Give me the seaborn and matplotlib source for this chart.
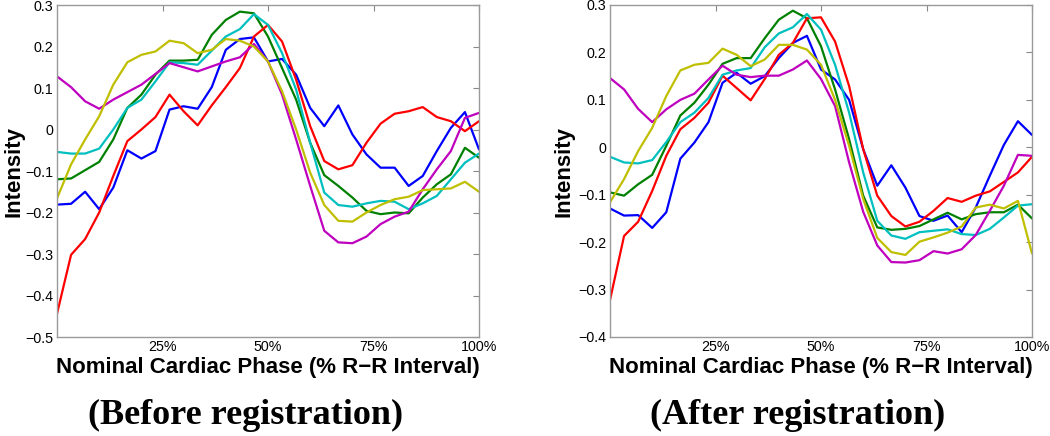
import numpy as np
import pandas as pd
import matplotlib
matplotlib.use("Agg")
import matplotlib.pyplot as plt
import seaborn as sns

# ---------------- data ----------------
phase = np.linspace(0, 100, 31)  # % R-R interval, 31 samples

series_names = ["blue", "green", "red", "cyan", "magenta", "yellow"]
series_colors = {"blue": "#0000ff", "green": "#008000", "red": "#ff0000",
                 "cyan": "#00bfbf", "magenta": "#bf00bf", "yellow": "#bfbf00"}

before_red = [-0.444, -0.302, -0.264, -0.200, -0.112, -0.028, 0.000, 0.030, 0.084, 0.044,
              0.010, 0.058, 0.102, 0.148, 0.224, 0.252, 0.212, 0.120, 0.008, -0.076,
              -0.096, -0.086, -0.032, 0.014, 0.038, 0.044, 0.054, 0.030, 0.020, -0.004, 0.020]
before_blue = [-0.181, -0.179, -0.150, -0.192, -0.140, -0.050, -0.070, -0.052, 0.048, 0.056,
               0.050, 0.102, 0.192, 0.218, 0.222, 0.164, 0.170, 0.132, 0.052, 0.008,
               0.058, -0.012, -0.060, -0.092, -0.092, -0.136, -0.112, -0.052, 0.004, 0.042, -0.048]
before_green = [-0.120, -0.118, -0.098, -0.078, -0.024, 0.052, 0.084, 0.132, 0.166, 0.166,
                0.168, 0.228, 0.264, 0.284, 0.280, 0.224, 0.148, 0.072, -0.032, -0.110,
                -0.136, -0.164, -0.196, -0.204, -0.200, -0.202, -0.164, -0.132, -0.108, -0.044, -0.068]
before_cyan = [-0.054, -0.058, -0.058, -0.046, 0.000, 0.052, 0.072, 0.116, 0.162, 0.160,
               0.156, 0.190, 0.224, 0.242, 0.278, 0.252, 0.184, 0.096, -0.032, -0.152,
               -0.182, -0.186, -0.178, -0.172, -0.174, -0.192, -0.178, -0.160, -0.120, -0.080, -0.058]
before_yellow = [-0.166, -0.084, -0.024, 0.032, 0.108, 0.162, 0.180, 0.188, 0.214, 0.208,
                 0.184, 0.192, 0.218, 0.214, 0.200, 0.164, 0.092, 0.000, -0.104, -0.182,
                 -0.220, -0.222, -0.200, -0.182, -0.168, -0.162, -0.146, -0.144, -0.142, -0.126, -0.150]
before_magenta = [0.128, 0.102, 0.068, 0.050, 0.072, 0.090, 0.108, 0.134, 0.160, 0.150,
                  0.140, 0.152, 0.164, 0.174, 0.206, 0.164, 0.084, -0.024, -0.136, -0.244,
                  -0.272, -0.274, -0.258, -0.228, -0.210, -0.198, -0.144, -0.096, -0.052, 0.028, 0.040]

after_red = [-0.322, -0.187, -0.157, -0.092, -0.018, 0.038, 0.062, 0.094, 0.151, 0.125,
             0.099, 0.144, 0.195, 0.220, 0.272, 0.274, 0.223, 0.129, -0.004, -0.102,
             -0.145, -0.167, -0.157, -0.134, -0.107, -0.115, -0.102, -0.093, -0.073, -0.053, -0.020]
after_blue = [-0.129, -0.144, -0.143, -0.170, -0.137, -0.024, 0.010, 0.053, 0.136, 0.157,
              0.134, 0.150, 0.188, 0.220, 0.235, 0.164, 0.143, 0.100, -0.004, -0.081,
              -0.038, -0.085, -0.145, -0.155, -0.144, -0.179, -0.127, -0.060, 0.005, 0.055, 0.026]
after_green = [-0.095, -0.102, -0.078, -0.058, 0.003, 0.067, 0.094, 0.132, 0.176, 0.188,
               0.188, 0.230, 0.269, 0.288, 0.272, 0.213, 0.122, 0.017, -0.102, -0.169,
               -0.174, -0.172, -0.166, -0.152, -0.138, -0.152, -0.141, -0.137, -0.137, -0.121, -0.150]
after_cyan = [-0.020, -0.032, -0.034, -0.027, 0.011, 0.053, 0.073, 0.104, 0.153, 0.162,
              0.167, 0.211, 0.240, 0.253, 0.281, 0.248, 0.174, 0.073, -0.053, -0.155,
              -0.186, -0.193, -0.179, -0.176, -0.173, -0.183, -0.185, -0.172, -0.148, -0.123, -0.120]
after_yellow = [-0.116, -0.067, -0.008, 0.041, 0.108, 0.162, 0.174, 0.178, 0.208, 0.195,
                0.171, 0.185, 0.216, 0.216, 0.206, 0.174, 0.100, 0.003, -0.109, -0.191,
                -0.221, -0.227, -0.199, -0.190, -0.180, -0.167, -0.127, -0.121, -0.129, -0.113, -0.224]
after_magenta = [0.146, 0.122, 0.081, 0.053, 0.080, 0.100, 0.113, 0.143, 0.172, 0.153,
                 0.148, 0.151, 0.151, 0.164, 0.183, 0.144, 0.087, -0.032, -0.136, -0.207,
                 -0.242, -0.243, -0.238, -0.219, -0.224, -0.215, -0.185, -0.134, -0.081, -0.016, -0.018]

before = {"blue": before_blue, "green": before_green, "red": before_red,
          "cyan": before_cyan, "magenta": before_magenta, "yellow": before_yellow}
after = {"blue": after_blue, "green": after_green, "red": after_red,
         "cyan": after_cyan, "magenta": after_magenta, "yellow": after_yellow}

x_ticks = [25, 50, 75, 100]
x_tick_labels = ["25%", "50%", "75%", "100%"]
left_yticks = [-0.5, -0.4, -0.3, -0.2, -0.1, 0.0, 0.1, 0.2, 0.3]
left_ylabels = ["\u22120.5", "\u22120.4", "\u22120.3", "\u22120.2", "\u22120.1", "0", "0.1", "0.2", "0.3"]
right_yticks = [-0.4, -0.3, -0.2, -0.1, 0.0, 0.1, 0.2, 0.3]
right_ylabels = ["\u22120.4", "\u22120.3", "\u22120.2", "\u22120.1", "0", "0.1", "0.2", "0.3"]

xlabel = "Nominal Cardiac Phase (% R\u2212R Interval)"
ylabel = "Intensity"
captions = ["(Before registration)", "(After registration)"]


def to_long(d):
    rows = []
    for name in series_names:
        for xv, yv in zip(phase, d[name]):
            rows.append({"phase": xv, "intensity": yv, "series": name})
    return pd.DataFrame(rows)


# ---------------- style ----------------
sns.set_theme(style="white")
plt.rcParams["font.family"] = ["Liberation Sans", "DejaVu Sans"]
plt.rcParams["axes.unicode_minus"] = True
plt.rcParams["text.color"] = "black"
plt.rcParams["axes.labelcolor"] = "black"

W, H = 1050, 436
fig = plt.figure(figsize=(W / 100, H / 100), dpi=100)
ax1 = fig.add_axes([57 / W, 1 - 337 / H, 422 / W, 332 / H])
ax2 = fig.add_axes([610 / W, 1 - 337 / H, 422 / W, 332 / H])

panels = [(ax1, before, (-0.5, 0.3), left_yticks, left_ylabels, -0.078),
          (ax2, after, (-0.4, 0.3), right_yticks, right_ylabels, -0.085)]

for ax, data, ylim, yt, yl, ylx in panels:
    df = to_long(data)
    sns.lineplot(data=df, x="phase", y="intensity", hue="series",
                 hue_order=series_names, palette=series_colors,
                 linewidth=1.6, legend=False, ax=ax, estimator=None, sort=False)
    ax.set_xlim(0, 100)
    ax.set_ylim(*ylim)
    ax.set_xticks(x_ticks)
    ax.set_xticklabels(x_tick_labels)
    ax.set_yticks(yt)
    ax.set_yticklabels(yl)
    ax.tick_params(axis="both", direction="in", length=4, width=0.8, color="#888888",
                   labelsize=10.3, labelcolor="black", top=True, right=True)
    ax.tick_params(axis="x", pad=2.2)
    ax.tick_params(axis="y", pad=2.5)
    for sp in ax.spines.values():
        sp.set_visible(True)
        sp.set_color("#999999")
        sp.set_linewidth(1.0)
    ax.set_xlabel(xlabel, fontsize=16, fontweight="bold")
    ax.set_ylabel(ylabel, fontsize=16, fontweight="bold")
    ax.xaxis.set_label_coords(0.5, -(356.5 - 337) / 332)
    ax.yaxis.set_label_coords(ylx, 0.5)
    ax.grid(False)

# captions
cap_font = ["Liberation Serif", "DejaVu Serif"]
fig.text(246 / W, 1 - 424 / H, captions[0], ha="center", va="baseline",
         fontsize=26, fontweight="bold", family=cap_font)
fig.text(798 / W, 1 - 424 / H, captions[1], ha="center", va="baseline",
         fontsize=26, fontweight="bold", family=cap_font)

fig.savefig("out.png", dpi=100)
